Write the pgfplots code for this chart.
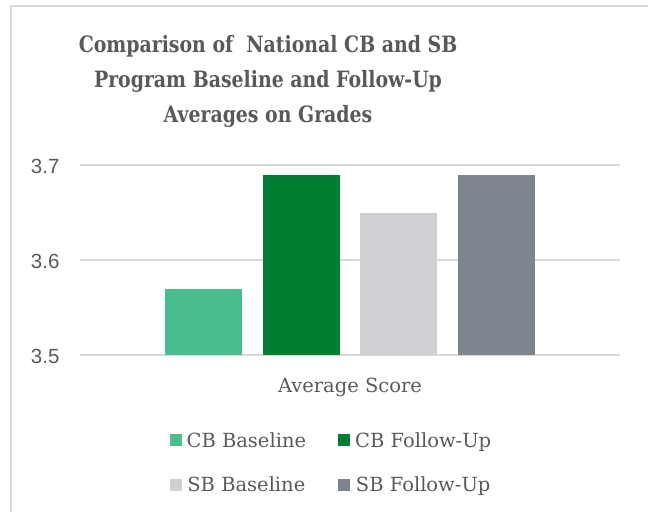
\documentclass[border=0pt]{standalone}
\usepackage{fontspec}
\setmainfont{DejaVu Serif}
\newfontfamily\titlefont{DejaVu Serif}[FakeStretch=0.84]
\newfontfamily\tickfont{Liberation Sans}
\usepackage{pgfplots}
\pgfplotsset{compat=1.18}
\definecolor{txt}{HTML}{595959}
\definecolor{cbb}{HTML}{49BD8E}
\definecolor{cbf}{HTML}{007F33}
\definecolor{sbb}{HTML}{D0D0D4}
\definecolor{sbf}{HTML}{7F858E}
\definecolor{gridc}{HTML}{D9D9D9}
\begin{document}
\begin{tikzpicture}[x=1pt,y=1pt]
\path[use as bounding box] (0,0) rectangle (648,512);
\draw[gridc, line width=1.5pt] (11,0) -- (11,506) -- (648,506);
\node[text=txt, font=\titlefont\fontsize{22.5}{35}\selectfont\bfseries, align=center] at (268,431) {Comparison of\ \ National CB and SB\\Program Baseline and Follow-Up\\Averages on Grades};
\begin{axis}[at={(80pt,157pt)}, anchor=south west, scale only axis,
  width=540pt, height=190pt,
  ybar=20.7pt, bar width=77pt,
  ymin=3.5, ymax=3.7, ytick={3.5,3.6,3.7},
  xmin=-1, xmax=1, xtick={0}, xticklabels={Average Score},
  axis line style={draw=none}, major tick length=0pt,
  ymajorgrids, grid style={gridc, line width=1.5pt},
  /pgf/number format/assume math mode=true,
  yticklabel={\pgfmathprintnumber[fixed,precision=1,fixed zerofill]{\tick}},
  yticklabel style={font=\tickfont\fontsize{20.5}{24}\selectfont, text=txt, xshift=-17pt, yshift=-1pt},
  xticklabel style={font=\fontsize{19.5}{22}\selectfont, text=txt, yshift=-19pt},
  every axis plot/.append style={draw=none, legend image code/.code={\fill (0pt,-6pt) rectangle (12pt,6pt); \path (15pt,0pt);}},
  legend columns=2,
  legend style={draw=none, fill=none, at={(0.16,0)}, anchor=north west, yshift=-73pt,
    font=\fontsize{19.5}{22}\selectfont, text=txt,
    /tikz/every even column/.append style={column sep=30pt},
    row sep=24pt},
]
\addplot[fill=cbb] coordinates {(0,3.57)};
\addplot[fill=cbf] coordinates {(0,3.69)};
\addplot[fill=sbb] coordinates {(0,3.65)};
\addplot[fill=sbf] coordinates {(0,3.69)};
\legend{CB Baseline, CB Follow-Up, SB Baseline, SB Follow-Up}
\end{axis}
\end{tikzpicture}
\end{document}
